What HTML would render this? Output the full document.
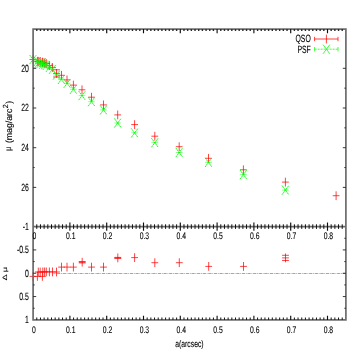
<!DOCTYPE html><html><head><meta charset="utf-8"><title>plot</title>
<style>html,body{margin:0;padding:0;background:#fff;}svg{display:block;}text{text-rendering:geometricPrecision;font-family:"Liberation Sans",sans-serif;fill:#000;stroke:#000;stroke-width:0.12;}</style></head><body>
<svg width="354" height="349" viewBox="0 0 354 349">
<rect width="354" height="349" fill="#fff"/>
<defs><filter id="bl" x="0" y="0" width="354" height="349" filterUnits="userSpaceOnUse"><feGaussianBlur stdDeviation="0.35"/></filter></defs>
<g filter="url(#bl)">
<path d="M345.9 273.4H53.5" stroke="#ff00ff" stroke-width="0.75" opacity="0.9" stroke-dasharray="3.2 0.8 0.8 0.8" fill="none"/>
<path d="M29.60 59.50H36.40M33.00 55.10V63.90M34.00 61.30H40.80M37.40 56.90V65.70M34.90 61.30H41.70M38.30 56.90V65.70M36.80 61.40H43.60M40.20 57.00V65.80M39.00 62.20H45.80M42.40 57.80V66.60M39.40 62.30H46.20M42.80 57.90V66.70M41.20 63.00H48.00M44.60 58.60V67.40M42.90 63.50H49.70M46.30 59.10V67.90M46.00 65.50H52.80M49.40 61.10V69.90M49.10 67.40H55.90M52.50 63.00V71.80M53.10 73.40H59.90M56.50 69.00V77.80M53.10 69.80H59.90M53.10 77.00H59.90M58.10 75.30H64.90M61.50 70.90V79.70M63.60 79.90H70.40M67.00 75.50V84.30M70.00 85.10H76.80M73.40 80.70V89.50M78.60 89.80H85.40M82.00 85.40V94.20M88.10 97.20H94.90M91.50 92.80V101.60M100.10 104.90H106.90M103.50 100.50V109.30M114.30 114.90H121.10M117.70 110.50V119.30M131.20 124.60H138.00M134.60 120.20V129.00M151.40 136.20H158.20M154.80 131.80V140.60M175.80 146.70H182.60M179.20 142.30V151.10M205.10 158.30H211.90M208.50 153.90V162.70M240.00 169.80H246.80M243.40 165.40V174.20M282.00 182.10H288.80M285.40 177.70V186.50M332.70 195.70H339.50M336.10 191.30V200.10" stroke="#ff0000" stroke-width="0.74" fill="none"/>
<path d="M29.60 54.90L36.40 64.10M29.60 64.10L36.40 54.90M34.00 56.70L40.80 65.90M34.00 65.90L40.80 56.70M34.90 58.50L41.70 67.70M34.90 67.70L41.70 58.50M36.80 58.60L43.60 67.80M36.80 67.80L43.60 58.60M39.00 57.80L45.80 67.00M39.00 67.00L45.80 57.80M39.40 59.50L46.20 68.70M39.40 68.70L46.20 59.50M41.20 60.20L48.00 69.40M41.20 69.40L48.00 60.20M42.90 60.70L49.70 69.90M42.90 69.90L49.70 60.70M46.00 62.70L52.80 71.90M46.00 71.90L52.80 62.70M49.10 64.60L55.90 73.80M49.10 73.80L55.90 64.60M53.10 70.40L59.90 79.60M53.10 79.60L59.90 70.40M58.00 74.80L64.80 84.00M58.00 84.00L64.80 74.80M63.70 78.70L70.50 87.90M63.70 87.90L70.50 78.70M70.00 84.70L76.80 93.90M70.00 93.90L76.80 84.70M78.60 91.00L85.40 100.20M78.60 100.20L85.40 91.00M88.10 97.10L94.90 106.30M88.10 106.30L94.90 97.10M100.10 105.30L106.90 114.50M100.10 114.50L106.90 105.30M114.30 118.40L121.10 127.60M114.30 127.60L121.10 118.40M131.20 128.30L138.00 137.50M131.20 137.50L138.00 128.30M151.40 138.10L158.20 147.30M151.40 147.30L158.20 138.10M175.80 147.90L182.60 157.10M175.80 157.10L182.60 147.90M205.10 157.80L211.90 167.00M205.10 167.00L211.90 157.80M240.00 170.00L246.80 179.20M240.00 179.20L246.80 170.00M282.00 185.50L288.80 194.70M282.00 194.70L288.80 185.50" stroke="#00ff00" stroke-width="0.9" fill="none" stroke-dasharray="1.9 0.4"/>
<path d="M29.60 59.50H36.40M34.00 61.30H40.80M34.90 63.10H41.70M36.80 63.20H43.60M39.00 62.40H45.80M39.40 64.10H46.20M41.20 64.80H48.00M42.90 65.30H49.70M46.00 67.30H52.80M49.10 69.20H55.90M53.10 75.00H59.90M58.00 79.40H64.80M63.70 83.30H70.50M70.00 89.30H76.80M78.60 95.60H85.40M88.10 101.70H94.90M100.10 109.90H106.90M114.30 123.00H121.10M131.20 132.90H138.00M151.40 142.70H158.20M175.80 152.50H182.60M205.10 162.40H211.90M240.00 174.60H246.80M282.00 190.10H288.80" stroke="#00ff00" stroke-width="0.8" fill="none" opacity="0.55"/>
<path d="M31.80 59.50H34.20M36.20 61.30H38.60M37.10 63.10H39.50M39.00 63.20H41.40M41.20 62.40H43.60M41.60 64.10H44.00M43.40 64.80H45.80M45.10 65.30H47.50M48.20 67.30H50.60M51.30 69.20H53.70M55.30 75.00H57.70M60.20 79.40H62.60M65.90 83.30H68.30M72.20 89.30H74.60M80.80 95.60H83.20M90.30 101.70H92.70M102.30 109.90H104.70M116.50 123.00H118.90M133.40 132.90H135.80M153.60 142.70H156.00M178.00 152.50H180.40M207.30 162.40H209.70M242.20 174.60H244.60M284.20 190.10H286.60" stroke="#00ff00" stroke-width="1" fill="none" opacity="0.8"/>
<path d="M29.60 276.40H36.40M33.00 272.00V280.80M34.00 276.40H40.80M37.40 272.00V280.80M34.90 272.00H41.70M38.30 267.60V276.40M36.80 272.00H43.60M40.20 267.60V276.40M39.00 276.40H45.80M42.40 272.00V280.80M39.40 271.90H46.20M42.80 267.50V276.30M41.20 271.90H48.00M44.60 267.50V276.30M42.90 271.90H49.70M46.30 267.50V276.30M46.00 271.90H52.80M49.40 267.50V276.30M49.10 271.90H55.90M52.50 267.50V276.30M53.10 272.00H59.90M56.50 267.60V276.40M58.10 267.10H64.90M61.50 262.70V271.50M63.60 267.10H70.40M67.00 262.70V271.50M70.00 267.10H76.80M73.40 262.70V271.50M78.80 262.20H85.60M82.20 257.80V266.60M78.80 261.50H85.60M78.80 262.90H85.60M88.10 267.10H94.90M91.50 262.70V271.50M100.10 267.10H106.90M103.50 262.70V271.50M114.40 257.90H121.20M117.80 253.50V262.30M114.40 257.40H121.20M114.40 258.40H121.20M131.20 257.60H138.00M134.60 253.20V262.00M151.40 262.70H158.20M154.80 258.30V267.10M175.90 262.70H182.70M179.30 258.30V267.10M205.30 266.40H212.10M208.70 262.00V270.80M240.10 266.40H246.90M243.50 262.00V270.80M282.10 257.90H288.90M285.50 253.50V262.30M282.10 255.30H288.90M282.10 260.50H288.90" stroke="#ff0000" stroke-width="0.74" fill="none"/>
<g stroke="#6c6c6c" stroke-width="1.7" fill="none">
<rect x="33.1" y="29.1" width="312.79999999999995" height="290.79999999999995"/>
<path d="M33.1 226.6H345.9"/>
</g>
<path d="M36.78 29.1v1.9M40.46 29.1v1.9M44.14 29.1v1.9M47.82 29.1v1.9M51.50 29.1v1.9M55.18 29.1v1.9M58.86 29.1v1.9M62.54 29.1v1.9M66.22 29.1v1.9M73.58 29.1v1.9M77.26 29.1v1.9M80.94 29.1v1.9M84.62 29.1v1.9M88.30 29.1v1.9M91.98 29.1v1.9M95.66 29.1v1.9M99.34 29.1v1.9M103.02 29.1v1.9M110.38 29.1v1.9M114.06 29.1v1.9M117.74 29.1v1.9M121.42 29.1v1.9M125.10 29.1v1.9M128.78 29.1v1.9M132.46 29.1v1.9M136.14 29.1v1.9M139.82 29.1v1.9M147.18 29.1v1.9M150.86 29.1v1.9M154.54 29.1v1.9M158.22 29.1v1.9M161.90 29.1v1.9M165.58 29.1v1.9M169.26 29.1v1.9M172.94 29.1v1.9M176.62 29.1v1.9M183.98 29.1v1.9M187.66 29.1v1.9M191.34 29.1v1.9M195.02 29.1v1.9M198.70 29.1v1.9M202.38 29.1v1.9M206.06 29.1v1.9M209.74 29.1v1.9M213.42 29.1v1.9M220.78 29.1v1.9M224.46 29.1v1.9M228.14 29.1v1.9M231.82 29.1v1.9M235.50 29.1v1.9M239.18 29.1v1.9M242.86 29.1v1.9M246.54 29.1v1.9M250.22 29.1v1.9M257.58 29.1v1.9M261.26 29.1v1.9M264.94 29.1v1.9M268.62 29.1v1.9M272.30 29.1v1.9M275.98 29.1v1.9M279.66 29.1v1.9M283.34 29.1v1.9M287.02 29.1v1.9M294.38 29.1v1.9M298.06 29.1v1.9M301.74 29.1v1.9M305.42 29.1v1.9M309.10 29.1v1.9M312.78 29.1v1.9M316.46 29.1v1.9M320.14 29.1v1.9M323.82 29.1v1.9M331.18 29.1v1.9M334.86 29.1v1.9M338.54 29.1v1.9M342.22 29.1v1.9" stroke="#2a2a2a" stroke-width="1.4" fill="none"/>
<path d="M36.78 224.29999999999998v4.6M36.78 319.9v-2.4M40.46 224.29999999999998v4.6M40.46 319.9v-2.4M44.14 224.29999999999998v4.6M44.14 319.9v-2.4M47.82 224.29999999999998v4.6M47.82 319.9v-2.4M51.50 224.29999999999998v4.6M51.50 319.9v-2.4M55.18 224.29999999999998v4.6M55.18 319.9v-2.4M58.86 224.29999999999998v4.6M58.86 319.9v-2.4M62.54 224.29999999999998v4.6M62.54 319.9v-2.4M66.22 224.29999999999998v4.6M66.22 319.9v-2.4M73.58 224.29999999999998v4.6M73.58 319.9v-2.4M77.26 224.29999999999998v4.6M77.26 319.9v-2.4M80.94 224.29999999999998v4.6M80.94 319.9v-2.4M84.62 224.29999999999998v4.6M84.62 319.9v-2.4M88.30 224.29999999999998v4.6M88.30 319.9v-2.4M91.98 224.29999999999998v4.6M91.98 319.9v-2.4M95.66 224.29999999999998v4.6M95.66 319.9v-2.4M99.34 224.29999999999998v4.6M99.34 319.9v-2.4M103.02 224.29999999999998v4.6M103.02 319.9v-2.4M110.38 224.29999999999998v4.6M110.38 319.9v-2.4M114.06 224.29999999999998v4.6M114.06 319.9v-2.4M117.74 224.29999999999998v4.6M117.74 319.9v-2.4M121.42 224.29999999999998v4.6M121.42 319.9v-2.4M125.10 224.29999999999998v4.6M125.10 319.9v-2.4M128.78 224.29999999999998v4.6M128.78 319.9v-2.4M132.46 224.29999999999998v4.6M132.46 319.9v-2.4M136.14 224.29999999999998v4.6M136.14 319.9v-2.4M139.82 224.29999999999998v4.6M139.82 319.9v-2.4M147.18 224.29999999999998v4.6M147.18 319.9v-2.4M150.86 224.29999999999998v4.6M150.86 319.9v-2.4M154.54 224.29999999999998v4.6M154.54 319.9v-2.4M158.22 224.29999999999998v4.6M158.22 319.9v-2.4M161.90 224.29999999999998v4.6M161.90 319.9v-2.4M165.58 224.29999999999998v4.6M165.58 319.9v-2.4M169.26 224.29999999999998v4.6M169.26 319.9v-2.4M172.94 224.29999999999998v4.6M172.94 319.9v-2.4M176.62 224.29999999999998v4.6M176.62 319.9v-2.4M183.98 224.29999999999998v4.6M183.98 319.9v-2.4M187.66 224.29999999999998v4.6M187.66 319.9v-2.4M191.34 224.29999999999998v4.6M191.34 319.9v-2.4M195.02 224.29999999999998v4.6M195.02 319.9v-2.4M198.70 224.29999999999998v4.6M198.70 319.9v-2.4M202.38 224.29999999999998v4.6M202.38 319.9v-2.4M206.06 224.29999999999998v4.6M206.06 319.9v-2.4M209.74 224.29999999999998v4.6M209.74 319.9v-2.4M213.42 224.29999999999998v4.6M213.42 319.9v-2.4M220.78 224.29999999999998v4.6M220.78 319.9v-2.4M224.46 224.29999999999998v4.6M224.46 319.9v-2.4M228.14 224.29999999999998v4.6M228.14 319.9v-2.4M231.82 224.29999999999998v4.6M231.82 319.9v-2.4M235.50 224.29999999999998v4.6M235.50 319.9v-2.4M239.18 224.29999999999998v4.6M239.18 319.9v-2.4M242.86 224.29999999999998v4.6M242.86 319.9v-2.4M246.54 224.29999999999998v4.6M246.54 319.9v-2.4M250.22 224.29999999999998v4.6M250.22 319.9v-2.4M257.58 224.29999999999998v4.6M257.58 319.9v-2.4M261.26 224.29999999999998v4.6M261.26 319.9v-2.4M264.94 224.29999999999998v4.6M264.94 319.9v-2.4M268.62 224.29999999999998v4.6M268.62 319.9v-2.4M272.30 224.29999999999998v4.6M272.30 319.9v-2.4M275.98 224.29999999999998v4.6M275.98 319.9v-2.4M279.66 224.29999999999998v4.6M279.66 319.9v-2.4M283.34 224.29999999999998v4.6M283.34 319.9v-2.4M287.02 224.29999999999998v4.6M287.02 319.9v-2.4M294.38 224.29999999999998v4.6M294.38 319.9v-2.4M298.06 224.29999999999998v4.6M298.06 319.9v-2.4M301.74 224.29999999999998v4.6M301.74 319.9v-2.4M305.42 224.29999999999998v4.6M305.42 319.9v-2.4M309.10 224.29999999999998v4.6M309.10 319.9v-2.4M312.78 224.29999999999998v4.6M312.78 319.9v-2.4M316.46 224.29999999999998v4.6M316.46 319.9v-2.4M320.14 224.29999999999998v4.6M320.14 319.9v-2.4M323.82 224.29999999999998v4.6M323.82 319.9v-2.4M331.18 224.29999999999998v4.6M331.18 319.9v-2.4M334.86 224.29999999999998v4.6M334.86 319.9v-2.4M338.54 224.29999999999998v4.6M338.54 319.9v-2.4M342.22 224.29999999999998v4.6M342.22 319.9v-2.4" stroke="#111" stroke-width="1.0" fill="none"/>
<path d="M69.90 29.1v4.2M69.90 222.4v8.4M69.90 319.9v-4.2M106.70 29.1v4.2M106.70 222.4v8.4M106.70 319.9v-4.2M143.50 29.1v4.2M143.50 222.4v8.4M143.50 319.9v-4.2M180.30 29.1v4.2M180.30 222.4v8.4M180.30 319.9v-4.2M217.10 29.1v4.2M217.10 222.4v8.4M217.10 319.9v-4.2M253.90 29.1v4.2M253.90 222.4v8.4M253.90 319.9v-4.2M290.70 29.1v4.2M290.70 222.4v8.4M290.70 319.9v-4.2M327.50 29.1v4.2M327.50 222.4v8.4M327.50 319.9v-4.2" stroke="#111" stroke-width="1.15" fill="none"/>
<path d="M33.1 68.30h3.1M345.9 68.30h-3.1M33.1 88.15h1.6M345.9 88.15h-1.6M33.1 108.00h3.1M345.9 108.00h-3.1M33.1 127.85h1.6M345.9 127.85h-1.6M33.1 147.70h3.1M345.9 147.70h-3.1M33.1 167.55h1.6M345.9 167.55h-1.6M33.1 187.40h3.1M345.9 187.40h-3.1M33.1 238.26h1.6M345.9 238.26h-1.6M33.1 249.92h3.1M345.9 249.92h-3.1M33.1 261.59h1.6M345.9 261.59h-1.6M33.1 273.25h3.1M345.9 273.25h-3.1M33.1 284.91h1.6M345.9 284.91h-1.6M33.1 296.57h3.1M345.9 296.57h-3.1M33.1 308.24h1.6M345.9 308.24h-1.6" stroke="#222" stroke-width="0.9" fill="none"/>
<text transform="translate(28.80 71.70) scale(0.655 1)" font-size="10.5" text-anchor="end">20</text>
<text transform="translate(28.80 111.40) scale(0.655 1)" font-size="10.5" text-anchor="end">22</text>
<text transform="translate(28.80 151.10) scale(0.655 1)" font-size="10.5" text-anchor="end">24</text>
<text transform="translate(28.80 190.80) scale(0.655 1)" font-size="10.5" text-anchor="end">26</text>
<text transform="translate(28.80 230.00) scale(0.655 1)" font-size="10.5" text-anchor="end">-1</text>
<text transform="translate(28.80 253.32) scale(0.655 1)" font-size="10.5" text-anchor="end">-0.5</text>
<text transform="translate(28.80 276.65) scale(0.655 1)" font-size="10.5" text-anchor="end">0</text>
<text transform="translate(28.80 299.97) scale(0.655 1)" font-size="10.5" text-anchor="end">0.5</text>
<text transform="translate(28.80 323.30) scale(0.655 1)" font-size="10.5" text-anchor="end">1</text>
<text transform="translate(34.40 239.10) scale(0.71 1)" font-size="9.6" text-anchor="middle">0</text>
<text transform="translate(34.00 333.00) scale(0.71 1)" font-size="9.6" text-anchor="middle">0</text>
<text transform="translate(70.80 239.10) scale(0.71 1)" font-size="9.6" text-anchor="middle">0.1</text>
<text transform="translate(70.80 333.00) scale(0.71 1)" font-size="9.6" text-anchor="middle">0.1</text>
<text transform="translate(107.60 239.10) scale(0.71 1)" font-size="9.6" text-anchor="middle">0.2</text>
<text transform="translate(107.60 333.00) scale(0.71 1)" font-size="9.6" text-anchor="middle">0.2</text>
<text transform="translate(144.40 239.10) scale(0.71 1)" font-size="9.6" text-anchor="middle">0.3</text>
<text transform="translate(144.40 333.00) scale(0.71 1)" font-size="9.6" text-anchor="middle">0.3</text>
<text transform="translate(181.20 239.10) scale(0.71 1)" font-size="9.6" text-anchor="middle">0.4</text>
<text transform="translate(181.20 333.00) scale(0.71 1)" font-size="9.6" text-anchor="middle">0.4</text>
<text transform="translate(218.00 239.10) scale(0.71 1)" font-size="9.6" text-anchor="middle">0.5</text>
<text transform="translate(218.00 333.00) scale(0.71 1)" font-size="9.6" text-anchor="middle">0.5</text>
<text transform="translate(254.80 239.10) scale(0.71 1)" font-size="9.6" text-anchor="middle">0.6</text>
<text transform="translate(254.80 333.00) scale(0.71 1)" font-size="9.6" text-anchor="middle">0.6</text>
<text transform="translate(291.60 239.10) scale(0.71 1)" font-size="9.6" text-anchor="middle">0.7</text>
<text transform="translate(291.60 333.00) scale(0.71 1)" font-size="9.6" text-anchor="middle">0.7</text>
<text transform="translate(328.40 239.10) scale(0.71 1)" font-size="9.6" text-anchor="middle">0.8</text>
<text transform="translate(328.40 333.00) scale(0.71 1)" font-size="9.6" text-anchor="middle">0.8</text>
<text transform="translate(189.40 346.90) scale(0.71 1)" font-size="9.6" text-anchor="middle">a(arcsec)</text>
<text transform="translate(310.80 42.20) scale(0.655 1)" font-size="10.5" text-anchor="end">QSO</text>
<text transform="translate(310.80 53.00) scale(0.655 1)" font-size="10.5" text-anchor="end">PSF</text>
<path d="M314.6 39H338M314.6 36.8v4.4M338 36.8v4.4M326.4 34.6v8.8" stroke="#ff0000" stroke-width="0.75" fill="none"/>
<path d="M314.6 49.2H338" stroke="#00ff00" stroke-width="0.75" stroke-dasharray="2 1" fill="none"/>
<path d="M314.6 47v4.4M338 47v4.4M323 44.6L329.8 53.8M323 53.8L329.8 44.6" stroke="#00ff00" stroke-width="0.75" fill="none"/>
<text transform="translate(11.9 100.9) rotate(-90) scale(0.87 0.9)" font-size="10" text-anchor="end">(mag/arc<tspan dx="0.5" dy="-4.2" font-size="8.2">2</tspan><tspan dx="0.6" dy="4.2">)</tspan></text>
<text transform="translate(11.3 151.0) rotate(-90) scale(0.72 0.85)" font-size="10" text-anchor="start">μ</text>
<text transform="translate(7.0 273.8) rotate(-90) scale(0.92 0.64)" font-size="10" text-anchor="middle">Δ μ</text>
</g></svg></body></html>
